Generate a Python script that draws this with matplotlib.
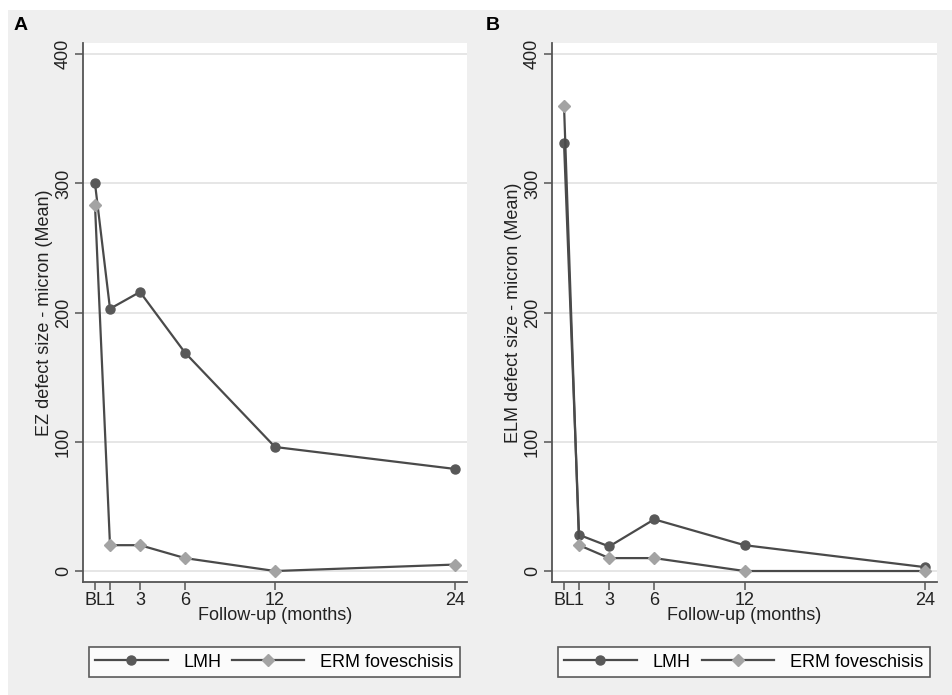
import matplotlib
matplotlib.use("Agg")
import matplotlib.pyplot as plt
from matplotlib.patches import Rectangle
from matplotlib.lines import Line2D

months = [0, 1, 3, 6, 12, 24]
tick_labels = ["BL", "1", "3", "6", "12", "24"]

ez_lmh = [300, 203, 216, 169, 96, 79]
ez_erm = [283, 20, 20, 10, 0, 5]
elm_lmh = [331, 28, 19, 40, 20, 3]
elm_erm = [360, 20, 10, 10, 0, 0]

series_names = ["LMH", "ERM foveschisis"]
ylabels = ["EZ defect size - micron (Mean)", "ELM defect size - micron (Mean)"]
xlabel = "Follow-up (months)"
panel_letters = ["A", "B"]

plt.rcParams['font.family'] = ['Liberation Sans', 'DejaVu Sans']

W, H = 952, 695
fig = plt.figure(figsize=(W/100, H/100), dpi=100)
fig.patch.set_facecolor('white')
fig.add_artist(Rectangle((8/W, 0), 1 - 8/W, 1 - 10/H, transform=fig.transFigure,
                         facecolor='#efefef', edgecolor='none', zorder=-10))

line_col = '#4a4a4a'
lmh_mk = '#585858'
erm_mk = '#a3a3a3'
axis_col = '#555555'
fs = 13

def make_panel(left, right, lmh, erm, ylabel, letter, letter_x, leg_x0, leg_x1):
    ax = fig.add_axes([left/W, 1 - 582/H, (right - left)/W, (582 - 43)/H])
    ax.set_facecolor('white')
    ax.plot(months, lmh, color=line_col, lw=1.6, marker='o', ms=6.5,
            mfc=lmh_mk, mec=lmh_mk, zorder=3)
    ax.plot(months, erm, color=line_col, lw=1.6, marker='D', ms=6.5,
            mfc=erm_mk, mec=erm_mk, zorder=4)
    ax.set_xlim(-0.8, 24.8)
    ax.set_ylim(-8.5, 408.7)
    ax.set_yticks([0, 100, 200, 300, 400])
    ax.set_xticks(months)
    ax.set_xticklabels(tick_labels)
    ax.grid(axis='y', color='#e6e6e6', lw=1.4)
    ax.set_axisbelow(True)
    for s in ['top', 'right']:
        ax.spines[s].set_visible(False)
    for s in ['left', 'bottom']:
        ax.spines[s].set_color(axis_col)
        ax.spines[s].set_linewidth(1.3)
    ax.tick_params(axis='both', colors=axis_col, labelcolor='#222222', labelsize=fs,
                   length=6, width=1.1)
    ax.tick_params(axis='x', pad=1)
    ax.tick_params(axis='y', pad=2)
    for lab in ax.get_yticklabels():
        lab.set_rotation(90)
        lab.set_va('center')
    ax.set_ylabel(ylabel, fontsize=fs, color='#222222', labelpad=1)
    ax.set_xlabel(xlabel, fontsize=fs, color='#222222', labelpad=-1)
    fig.text(letter_x/W, 1 - 25/H, letter, fontsize=14, fontweight='bold', va='center', ha='left')
    handles = [Line2D([], [], color=line_col, lw=1.6, marker='o', ms=6.5, mfc=lmh_mk, mec=lmh_mk),
               Line2D([], [], color=line_col, lw=1.6, marker='D', ms=6.5, mfc=erm_mk, mec=erm_mk)]
    leg = fig.legend(handles, series_names, loc='lower left',
                     bbox_to_anchor=(leg_x0/W, 1 - 677/H, (leg_x1 - leg_x0)/W, 34/H),
                     mode='expand', ncol=2, frameon=True, fancybox=False,
                     handlelength=4.0, fontsize=fs, borderaxespad=0, columnspacing=2.0,
                     borderpad=0.35, handletextpad=0.9)
    leg.get_frame().set_edgecolor('#333333')
    leg.get_frame().set_linewidth(1.2)
    return ax

make_panel(83, 467, ez_lmh, ez_erm, ylabels[0], panel_letters[0], 14, 89, 460)
make_panel(552, 937, elm_lmh, elm_erm, ylabels[1], panel_letters[1], 486, 558, 930)

fig.savefig("out.png", dpi=100, facecolor=fig.get_facecolor())
